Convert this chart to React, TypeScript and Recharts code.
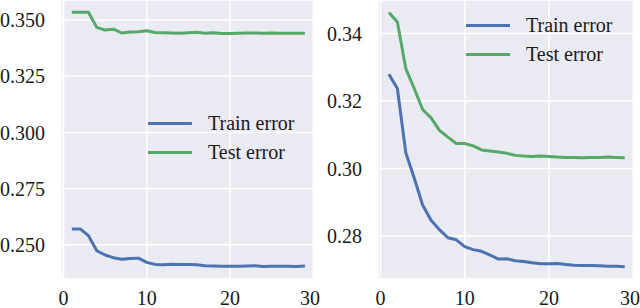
import React from 'react';
import { LineChart, Line, XAxis, YAxis, CartesianGrid, Legend } from 'recharts';

// epochs 1..29
const epochs = [1, 2, 3, 4, 5, 6, 7, 8, 9, 10, 11, 12, 13, 14, 15, 16, 17, 18, 19, 20, 21, 22, 23, 24, 25, 26, 27, 28, 29];

const leftTrain = [0.2570, 0.2570, 0.2540, 0.2473, 0.2454, 0.2442, 0.2435, 0.2438, 0.2440, 0.2421, 0.2412, 0.2410, 0.2413, 0.2412, 0.2412, 0.2410, 0.2406, 0.2405, 0.2404, 0.2404, 0.2404, 0.2405, 0.2406, 0.2403, 0.2404, 0.2404, 0.2404, 0.2403, 0.2405];
const leftTest = [0.3535, 0.3535, 0.3535, 0.3468, 0.3456, 0.3460, 0.3443, 0.3447, 0.3449, 0.3453, 0.3445, 0.3444, 0.3443, 0.3442, 0.3444, 0.3446, 0.3442, 0.3444, 0.3441, 0.3441, 0.3442, 0.3443, 0.3443, 0.3442, 0.3443, 0.3442, 0.3442, 0.3442, 0.3442];

const rightTrain = [0.3279, 0.3237, 0.3047, 0.2972, 0.2892, 0.2847, 0.2819, 0.2795, 0.2789, 0.2769, 0.2760, 0.2755, 0.2744, 0.2732, 0.2733, 0.2727, 0.2725, 0.2721, 0.2718, 0.2718, 0.2719, 0.2716, 0.2714, 0.2713, 0.2713, 0.2712, 0.2711, 0.2711, 0.2709];
const rightTest = [0.3462, 0.3434, 0.3296, 0.3237, 0.3175, 0.3150, 0.3113, 0.3093, 0.3074, 0.3074, 0.3067, 0.3055, 0.3052, 0.3049, 0.3045, 0.3039, 0.3037, 0.3036, 0.3037, 0.3036, 0.3034, 0.3033, 0.3033, 0.3032, 0.3033, 0.3033, 0.3034, 0.3033, 0.3032];

const seriesNames = ['Train error', 'Test error'];
const xTicks = [0, 10, 20, 30];
const leftYTicks = [0.25, 0.275, 0.3, 0.325, 0.35];
const rightYTicks = [0.28, 0.3, 0.32, 0.34];

const BLUE = '#4C72B0';
const GREEN = '#55A868';
const FONT = "'Liberation Serif', 'DejaVu Serif', serif";
const tickStyle = { fontSize: 20, fill: '#1a1a1a' };

const toRows = (train: number[], test: number[]) =>
  epochs.map((x, i) => ({ x, train: train[i], test: test[i] }));

const LegendBox = ({ payload }: any) => {
  const items = [...(payload || [])].sort(
    (a: any, b: any) => seriesNames.indexOf(a.value) - seriesNames.indexOf(b.value)
  );
  return (
    <div style={{ fontFamily: FONT, fontSize: 20, color: '#1a1a1a' }}>
      {items.map((p: any) => (
        <div key={p.value} style={{ display: 'flex', alignItems: 'center', height: 29 }}>
          <svg width={44} height={29} style={{ display: 'block' }}>
            <line x1={1} x2={43} y1={14.5} y2={14.5} stroke={p.color} strokeWidth={3} strokeLinecap="round" />
          </svg>
          <span style={{ marginLeft: 16, whiteSpace: 'nowrap', lineHeight: '29px' }}>{p.value}</span>
        </div>
      ))}
    </div>
  );
};

interface PanelProps {
  train: number[];
  test: number[];
  yDomain: [number, number];
  yTicks: number[];
  digits: number;
  axisWidth: number;
  legendPos: { left: number; top: number };
}

const Panel: React.FC<PanelProps> = ({ train, test, yDomain, yTicks, digits, axisWidth, legendPos }) => (
  <LineChart width={320} height={308} data={toRows(train, test)} margin={{ top: 0, right: 6, bottom: 0, left: 0 }}>
    <CartesianGrid fill="#EAEAF2" stroke="#ffffff" strokeWidth={1.5} strokeOpacity={1} />
    <XAxis
      dataKey="x"
      type="number"
      domain={[-0.3, 30.1]}
      ticks={xTicks}
      axisLine={false}
      tickLine={false}
      tickSize={6}
      tickMargin={6}
      height={29}
      tick={tickStyle}
      allowDataOverflow
    />
    <YAxis
      type="number"
      domain={yDomain}
      ticks={yTicks}
      axisLine={false}
      tickLine={false}
      tickSize={6}
      tickMargin={10}
      width={axisWidth}
      tick={tickStyle}
      tickFormatter={(v: number) => v.toFixed(digits)}
      allowDataOverflow
    />
    <Legend
      layout="horizontal"
      verticalAlign="middle"
      align="center"
      content={LegendBox}
      wrapperStyle={{ left: legendPos.left, top: legendPos.top, width: 'auto' }}
    />
    <Line name="Train error" dataKey="train" type="linear" stroke={BLUE} strokeWidth={3} dot={false} strokeLinejoin="round" isAnimationActive={false} />
    <Line name="Test error" dataKey="test" type="linear" stroke={GREEN} strokeWidth={3} dot={false} strokeLinejoin="round" isAnimationActive={false} />
  </LineChart>
);

export default function App() {
  return (
    <div style={{ position: 'absolute', left: 0, top: 0, width: 640, height: 308, background: '#fff', overflow: 'hidden', fontFamily: FONT }}>
      <div style={{ position: 'absolute', left: 0, top: 0 }}>
        <Panel
          train={leftTrain}
          test={leftTest}
          yDomain={[0.2347, 0.359]}
          yTicks={leftYTicks}
          digits={3}
          axisWidth={61}
          legendPos={{ left: 148, top: 108.5 }}
        />
      </div>
      <div style={{ position: 'absolute', left: 320, top: 0 }}>
        <Panel
          train={rightTrain}
          test={rightTest}
          yDomain={[0.2673, 0.3499]}
          yTicks={rightYTicks}
          digits={2}
          axisWidth={58}
          legendPos={{ left: 146, top: 10.5 }}
        />
      </div>
    </div>
  );
}
